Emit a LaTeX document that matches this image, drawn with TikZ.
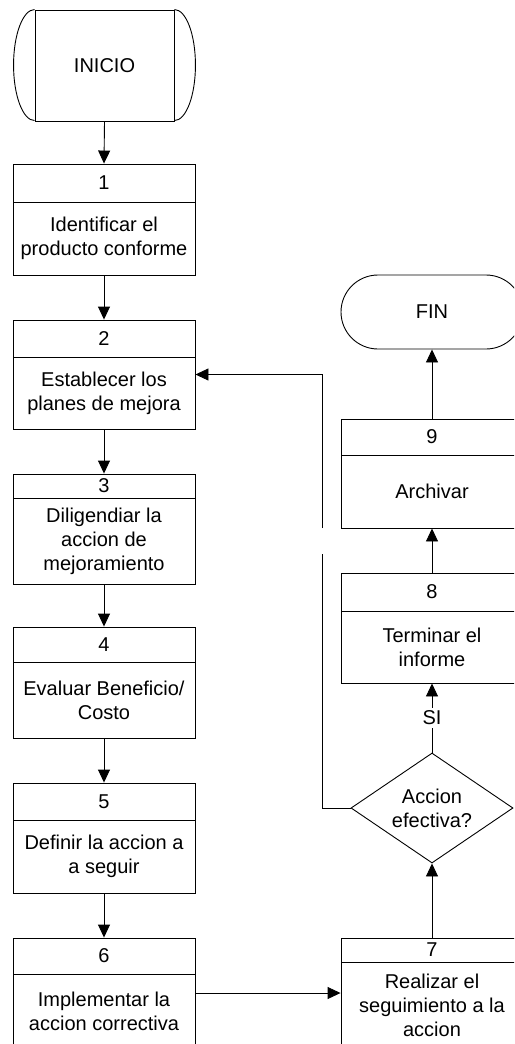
\documentclass[tikz,border=0pt]{standalone}
\usepackage{fontspec}
\setmainfont{Liberation Sans}
\usetikzlibrary{shapes.geometric,arrows.meta}
\begin{document}
\begin{tikzpicture}[x=1pt,y=-1pt,
  every node/.style={font=\fontsize{20}{24}\selectfont, inner sep=0pt},
  ln/.style={line width=0.9pt, draw=black},
  procbox/.style={ln, rectangle, minimum width=182, inner sep=0pt},
  txt/.style={align=center},
  arr/.style={ln, -{Triangle[width=12pt,length=13pt]}},
  decision/.style={ln, diamond, minimum width=162, minimum height=110, aspect=1.47, inner sep=0pt, align=center},
  terminal/.style={ln, rectangle, rounded corners=37, minimum width=182, minimum height=74}]
\useasboundingbox (0,0) rectangle (514,1044);
\clip (0,0) rectangle (514,1044);

% INICIO
\node[procbox, minimum width=139, minimum height=111] (ini) at (104.5,65.5) {INICIO};
\draw[ln] (ini.north west) arc[start angle=90, end angle=270, x radius=21pt, y radius=55.5pt];
\draw[ln] (ini.north east) arc[start angle=90, end angle=-90, x radius=21pt, y radius=55.5pt];

% Box 1
\node[procbox, minimum height=111] (b1) at (104,219.5) {};
\draw[ln] (13,202) -- (195,202);
\node (n1) at (104,183) {1};
\node[txt] (t1) at (104,238.5) {Identificar el\\producto conforme};

% Box 2
\node[procbox, minimum height=109] (b2) at (104,374.5) {};
\draw[ln] (13,357) -- (195,357);
\node (n2) at (104,338.5) {2};
\node[txt] (t2) at (104,393) {Establecer los\\planes de mejora};

% Box 3
\node[procbox, minimum height=110] (b3) at (104,529) {};
\draw[ln] (13,498) -- (195,498);
\node (n3) at (104,486) {3};
\node[txt] (t3) at (104,541) {Diligendiar la\\accion de\\mejoramiento};

% Box 4
\node[procbox, minimum height=111] (b4) at (104,682.5) {};
\draw[ln] (13,662) -- (195,662);
\node (n4) at (104,644.5) {4};
\node[txt] (t4) at (104,700) {Evaluar Beneficio/\\Costo};

% Box 5
\node[procbox, minimum height=110] (b5) at (104,838) {};
\draw[ln] (13,820) -- (195,820);
\node (n5) at (104,801.5) {5};
\node[txt] (t5) at (104,856.5) {Definir la accion a\\a seguir};

% Box 6
\node[procbox, minimum height=110] (b6) at (104,993) {};
\draw[ln] (13,974) -- (195,974);
\node (n6) at (104,956) {6};
\node[txt] (t6) at (104,1011) {Implementar la\\accion correctiva};

% Box 7
\node[procbox, minimum height=110] (b7) at (432,993) {};
\draw[ln] (341,962) -- (523,962);
\node (n7) at (432,950) {7};
\node[txt] (t7) at (432,1005) {Realizar el\\seguimiento a la\\accion};

% Decision
\node[decision] (dia) at (432,808) {Accion\\efectiva?};

% Box 8
\node[procbox, minimum height=110] (b8) at (432,628) {};
\draw[ln] (341,611) -- (523,611);
\node (n8) at (432,592) {8};
\node[txt] (t8) at (432,647) {Terminar el\\informe};

% Box 9
\node[procbox, minimum height=109] (b9) at (432,473.5) {};
\draw[ln] (341,455) -- (523,455);
\node (n9) at (432,437) {9};
\node[txt] (t9) at (432,491.5) {Archivar};

% FIN
\node[terminal] (fin) at (432,312) {FIN};

% Connectors
\draw[arr] (ini.south) -- (b1.north);
\draw[arr] (b1.south) -- (b2.north);
\draw[arr] (b2.south) -- (b3.north);
\draw[arr] (b3.south) -- (b4.north);
\draw[arr] (b4.south) -- (b5.north);
\draw[arr] (b5.south) -- (b6.north);
\draw[arr] (b6.east) -- (b7.west);
\draw[arr] (b7.north) -- (dia.south);
\draw[arr] (dia.north) -- node[fill=white, inner xsep=1pt, inner ysep=3pt] (si) {SI} (b8.south);
\draw[arr] (b8.north) -- (b9.south);
\draw[arr] (b9.north) -- (fin.south);

% Feedback loop
\coordinate (fbA) at (322,808);
\coordinate (fbB) at (322,554);
\coordinate (fbC) at (322,528);
\draw[ln] (dia.west) -- (fbA) -- (fbB);
\draw[arr] (fbC) |- (b2.east);
\end{tikzpicture}
\end{document}
